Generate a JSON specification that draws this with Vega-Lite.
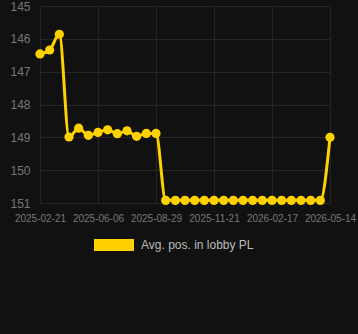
{
  "$schema": "https://vega.github.io/schema/vega-lite/v6.json",
  "autosize": {"type": "none"},
  "width": 290,
  "height": 197,
  "padding": {"left": 40, "top": 6, "right": 28, "bottom": 131},
  "background": "#111111",
  "config": {
    "view": {"stroke": null},
    "font": "Liberation Sans"
  },
  "data": {
    "values": [
      {"date": "2025-02-21", "pos": 146.46, "series": "Avg. pos. in lobby PL"},
      {"date": "2025-03-07", "pos": 146.34, "series": "Avg. pos. in lobby PL"},
      {"date": "2025-03-21", "pos": 145.86, "series": "Avg. pos. in lobby PL"},
      {"date": "2025-04-04", "pos": 148.99, "series": "Avg. pos. in lobby PL"},
      {"date": "2025-04-25", "pos": 148.72, "series": "Avg. pos. in lobby PL"},
      {"date": "2025-05-16", "pos": 148.94, "series": "Avg. pos. in lobby PL"},
      {"date": "2025-06-06", "pos": 148.85, "series": "Avg. pos. in lobby PL"},
      {"date": "2025-06-20", "pos": 148.77, "series": "Avg. pos. in lobby PL"},
      {"date": "2025-07-04", "pos": 148.89, "series": "Avg. pos. in lobby PL"},
      {"date": "2025-07-18", "pos": 148.80, "series": "Avg. pos. in lobby PL"},
      {"date": "2025-08-01", "pos": 148.97, "series": "Avg. pos. in lobby PL"},
      {"date": "2025-08-15", "pos": 148.88, "series": "Avg. pos. in lobby PL"},
      {"date": "2025-08-29", "pos": 148.88, "series": "Avg. pos. in lobby PL"},
      {"date": "2025-09-12", "pos": 150.92, "series": "Avg. pos. in lobby PL"},
      {"date": "2025-09-26", "pos": 150.92, "series": "Avg. pos. in lobby PL"},
      {"date": "2025-10-10", "pos": 150.92, "series": "Avg. pos. in lobby PL"},
      {"date": "2025-10-24", "pos": 150.92, "series": "Avg. pos. in lobby PL"},
      {"date": "2025-11-07", "pos": 150.92, "series": "Avg. pos. in lobby PL"},
      {"date": "2025-11-21", "pos": 150.92, "series": "Avg. pos. in lobby PL"},
      {"date": "2025-12-05", "pos": 150.92, "series": "Avg. pos. in lobby PL"},
      {"date": "2025-12-19", "pos": 150.92, "series": "Avg. pos. in lobby PL"},
      {"date": "2026-01-02", "pos": 150.92, "series": "Avg. pos. in lobby PL"},
      {"date": "2026-01-16", "pos": 150.92, "series": "Avg. pos. in lobby PL"},
      {"date": "2026-01-30", "pos": 150.92, "series": "Avg. pos. in lobby PL"},
      {"date": "2026-02-17", "pos": 150.92, "series": "Avg. pos. in lobby PL"},
      {"date": "2026-03-03", "pos": 150.92, "series": "Avg. pos. in lobby PL"},
      {"date": "2026-03-17", "pos": 150.92, "series": "Avg. pos. in lobby PL"},
      {"date": "2026-03-31", "pos": 150.92, "series": "Avg. pos. in lobby PL"},
      {"date": "2026-04-14", "pos": 150.92, "series": "Avg. pos. in lobby PL"},
      {"date": "2026-04-28", "pos": 150.92, "series": "Avg. pos. in lobby PL"},
      {"date": "2026-05-14", "pos": 149.0, "series": "Avg. pos. in lobby PL"}
    ]
  },
  "encoding": {
    "x": {
      "field": "date",
      "type": "ordinal",
      "sort": null,
      "scale": {"type": "point", "padding": 0},
      "axis": {
        "title": null,
        "values": ["2025-02-21", "2025-06-06", "2025-08-29", "2025-11-21", "2026-02-17", "2026-05-14"],
        "labelAngle": 0,
        "labelFontSize": 10,
        "labelColor": "#777777",
        "labelPadding": 10,
        "grid": true,
        "gridColor": "#252525",
        "gridWidth": 1,
        "domain": false,
        "ticks": false
      }
    },
    "y": {
      "field": "pos",
      "type": "quantitative",
      "scale": {"domain": [145, 151], "reverse": true, "zero": false, "nice": false},
      "axis": {
        "title": null,
        "values": [145, 146, 147, 148, 149, 150, 151],
        "labelFontSize": 12,
        "labelColor": "#777777",
        "labelPadding": 10,
        "grid": true,
        "gridColor": "#252525",
        "gridWidth": 1,
        "domain": false,
        "ticks": false
      }
    },
    "color": {
      "field": "series",
      "type": "nominal",
      "scale": {"range": ["#FFD100"]},
      "legend": {
        "title": null,
        "orient": "none",
        "legendX": 54,
        "legendY": 219,
        "symbolType": "M-1,-0.3L1,-0.3L1,0.3L-1,0.3Z",
        "symbolSize": 1600,
        "labelColor": "#bbbbbb",
        "labelFontSize": 12,
        "labelOffset": 7,
        "encode": {
          "symbols": {
            "update": {
              "fill": {"value": "#FFD100"},
              "stroke": {"value": "transparent"},
              "strokeWidth": {"value": 0},
              "opacity": {"value": 1}
            }
          }
        }
      }
    }
  },
  "layer": [
    {"mark": {"type": "line", "interpolate": "monotone", "strokeWidth": 3}},
    {"mark": {"type": "point", "filled": true, "size": 85, "opacity": 1}}
  ]
}
